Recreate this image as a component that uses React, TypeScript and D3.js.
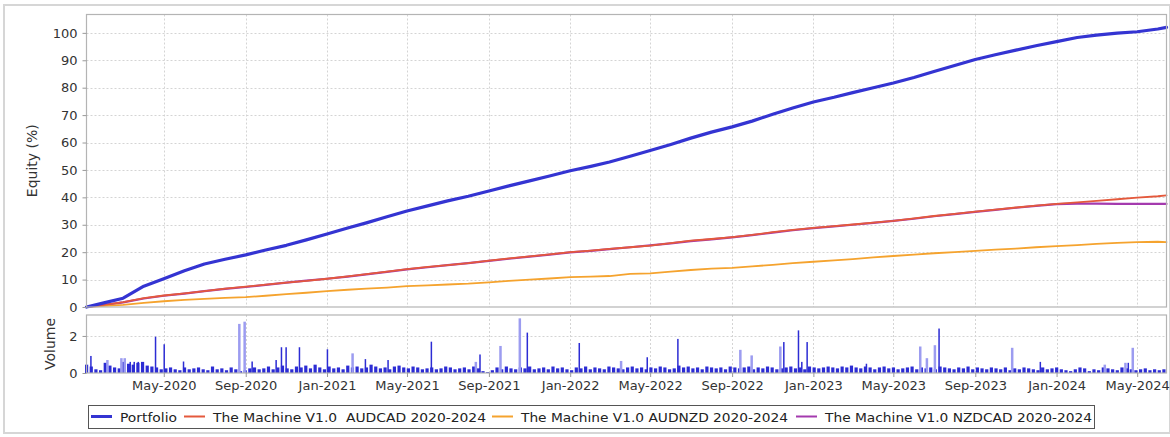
import React, { useEffect, useRef } from "react";
import * as d3 from "d3";

// sample dates for the equity curves (first of each month)
const curveDates = [
  "2020-01-06", "2020-02-01", "2020-03-01", "2020-04-01", "2020-05-01", "2020-06-01", "2020-07-01", "2020-08-01", "2020-09-01", "2020-10-01", "2020-11-01", "2020-12-01",
  "2021-01-01", "2021-02-01", "2021-03-01", "2021-04-01", "2021-05-01", "2021-06-01", "2021-07-01", "2021-08-01", "2021-09-01", "2021-10-01", "2021-11-01", "2021-12-01",
  "2022-01-01", "2022-02-01", "2022-03-01", "2022-04-01", "2022-05-01", "2022-06-01", "2022-07-01", "2022-08-01", "2022-09-01", "2022-10-01", "2022-11-01", "2022-12-01",
  "2023-01-01", "2023-02-01", "2023-03-01", "2023-04-01", "2023-05-01", "2023-06-01", "2023-07-01", "2023-08-01", "2023-09-01", "2023-10-01", "2023-11-01", "2023-12-01",
  "2024-01-01", "2024-02-01", "2024-03-01", "2024-04-01", "2024-05-01", "2024-06-01", "2024-06-14",
];

const portfolio = [
  0, 1.5, 3.2, 7.6, 10.3, 13.2, 15.7, 17.4, 19.0, 20.8, 22.5, 24.5,
  26.6, 28.8, 30.7, 32.9, 35.0, 36.9, 38.7, 40.4, 42.3, 44.2, 46.0, 47.8,
  49.7, 51.3, 52.9, 55.0, 57.1, 59.3, 61.6, 63.8, 65.7, 67.8, 70.3, 72.6,
  74.8, 76.5, 78.2, 80.0, 81.7, 83.7, 85.9, 88.1, 90.3, 92.0, 93.7, 95.3,
  96.8, 98.3, 99.2, 99.9, 100.4, 101.4, 102.0,
];

const audcad = [
  0, 0.8, 1.8, 3.2, 4.2, 5.0, 5.8, 6.7, 7.4, 8.2, 8.9, 9.5,
  10.3, 11.2, 12.0, 12.9, 13.8, 14.6, 15.3, 16.0, 16.9, 17.7, 18.5, 19.2,
  20.0, 20.6, 21.2, 21.8, 22.4, 23.3, 24.2, 24.8, 25.5, 26.3, 27.3, 28.1,
  28.9, 29.5, 30.1, 30.8, 31.4, 32.3, 33.2, 34.0, 34.8, 35.5, 36.3, 37.0,
  37.6, 38.2, 38.7, 39.3, 39.9, 40.4, 40.7,
];

const audnzd = [
  0, 0.4, 0.8, 1.5, 2.1, 2.6, 3.0, 3.3, 3.6, 4.1, 4.7, 5.2,
  5.8, 6.3, 6.7, 7.1, 7.6, 7.9, 8.2, 8.5, 9.0, 9.5, 10.0, 10.4,
  10.9, 11.1, 11.3, 12.1, 12.3, 12.9, 13.5, 14.0, 14.3, 14.8, 15.4, 16.0,
  16.5, 17.0, 17.5, 18.1, 18.6, 19.1, 19.6, 20.0, 20.5, 20.9, 21.3, 21.8,
  22.2, 22.6, 23.0, 23.4, 23.7, 23.8, 23.7,
];

const nzdcad = [
  0, 0.7, 1.7, 3.1, 4.1, 4.9, 5.8, 6.6, 7.3, 8.1, 8.9, 9.6,
  10.3, 11.1, 11.9, 12.8, 13.7, 14.5, 15.3, 16.0, 16.8, 17.6, 18.4, 19.1,
  19.9, 20.5, 21.1, 21.8, 22.5, 23.2, 24.0, 24.7, 25.4, 26.2, 27.1, 28.0,
  28.8, 29.4, 30.0, 30.7, 31.4, 32.2, 33.1, 33.9, 34.7, 35.4, 36.2, 36.9,
  37.5, 37.7, 37.7, 37.6, 37.6, 37.6, 37.6,
];

// weekly volume, first week starting 2020-01-06
const volumeStart = "2020-01-06";
const weeklyVolume = [
  0.45, 0.35, 0.2, 0.15, 0.55, 0.4, 0.3, 0.25, 0.6, 0.5, 0.45, 0.55, 0.6, 0.4, 0.35, 0.3, 0.2, 0.25, 0.3, 0.2,
  0.15, 0.3, 0.2, 0.25, 0.3, 0.2, 0.15, 0.35, 0.2, 0.25, 0.15, 0.3, 0.2, 0.1, 0.15, 0.25, 0.3, 0.2, 0.25, 0.35,
  0.2, 0.3, 0.4, 0.25, 0.2, 0.35, 0.3, 0.4, 0.25, 0.45, 0.3, 0.2, 0.35, 0.25, 0.3, 0.2, 0.4, 0.3, 0.35, 0.25,
  0.3, 0.45, 0.35, 0.25, 0.3, 0.2, 0.35, 0.4, 0.3, 0.25, 0.35, 0.3, 0.2, 0.25, 0.3, 0.2, 0.25, 0.35, 0.3, 0.2,
  0.25, 0.3, 0.2, 0.35, 0.25, 0.1, 0.05, 0.15, 0.3, 0.2, 0.35, 0.25, 0.2, 0.3, 0.25, 0.35, 0.2, 0.25, 0.3, 0.2,
  0.35, 0.25, 0.3, 0.2, 0.15, 0.3, 0.25, 0.35, 0.2, 0.3, 0.25, 0.2, 0.35, 0.3, 0.25, 0.2, 0.3, 0.35, 0.25, 0.3,
  0.2, 0.3, 0.25, 0.35, 0.3, 0.2, 0.25, 0.4, 0.3, 0.35, 0.25, 0.3, 0.2, 0.35, 0.3, 0.25, 0.3, 0.2, 0.35, 0.3,
  0.25, 0.3, 0.35, 0.2, 0.3, 0.25, 0.35, 0.3, 0.2, 0.25, 0.3, 0.35, 0.25, 0.3, 0.2, 0.35, 0.3, 0.25, 0.3, 0.35,
  0.3, 0.25, 0.35, 0.3, 0.4, 0.3, 0.25, 0.35, 0.3, 0.2, 0.3, 0.35, 0.25, 0.3, 0.2, 0.25, 0.3, 0.35, 0.2, 0.3,
  0.25, 0.3, 0.2, 0.35, 0.3, 0.25, 0.2, 0.3, 0.25, 0.35, 0.2, 0.3, 0.25, 0.2, 0.3, 0.25, 0.2, 0.3, 0.15, 0.25,
  0.2, 0.3, 0.25, 0.2, 0.15, 0.3, 0.2, 0.25, 0.3, 0.2, 0.15, 0.1, 0.2, 0.3, 0.25, 0.1, 0.2, 0.15, 0.3, 0.25,
  0.2, 0.15, 0.3, 0.25, 0.2, 0.15, 0.2, 0.25, 0.15, 0.2, 0.15, 0.2,
];

// the taller volume bars: date, volume, light (overlapping) bar
const spikeDates = [
  "2020-01-13", "2020-02-06", "2020-02-27", "2020-03-03", "2020-03-12", "2020-03-18", "2020-03-24", "2020-04-19", "2020-05-02", "2020-05-31",
  "2020-08-22", "2020-08-30", "2020-09-11", "2020-10-17", "2020-10-25", "2020-11-01", "2020-11-21", "2021-01-02", "2021-02-08", "2021-02-28",
  "2021-04-03", "2021-06-07", "2021-08-12", "2021-08-19", "2021-09-18", "2021-10-17", "2021-10-29", "2022-01-15", "2022-03-18", "2022-04-27",
  "2022-06-12", "2022-09-13", "2022-09-30", "2022-11-12", "2022-11-18", "2022-12-10", "2022-12-15", "2022-12-23", "2023-03-22", "2023-06-10",
  "2023-06-20", "2023-07-02", "2023-07-09", "2023-10-26", "2023-12-08", "2024-03-13", "2024-04-13", "2024-04-18", "2024-04-24",
];
const spikeValues = [
  0.92, 0.7, 0.8, 0.8, 0.6, 0.6, 0.6, 1.96, 1.55, 0.62,
  2.65, 2.77, 0.62, 0.7, 1.39, 1.39, 1.39, 1.28, 1.06, 0.75,
  0.7, 1.69, 0.6, 1.0, 1.46, 2.95, 2.18, 1.62, 0.65, 0.85,
  1.84, 1.25, 0.95, 1.43, 1.67, 2.3, 0.6, 1.67, 0.5, 1.43,
  0.8, 1.5, 2.4, 1.36, 0.6, 0.45, 0.55, 0.55, 1.36,
];
const spikeLight = [
  0, 1, 1, 1, 0, 0, 0, 0, 0, 0,
  1, 1, 0, 0, 0, 0, 0, 0, 1, 0,
  0, 0, 1, 0, 1, 1, 0, 0, 1, 0,
  0, 1, 1, 1, 0, 0, 0, 0, 0, 1,
  1, 1, 0, 1, 0, 1, 1, 0, 1,
];

const xTicks = [
  "2020-05-01", "2020-09-01", "2021-01-01", "2021-05-01", "2021-09-01", "2022-01-01", "2022-05-01",
  "2022-09-01", "2023-01-01", "2023-05-01", "2023-09-01", "2024-01-01", "2024-05-01",
];
const equityTicks = [0, 10, 20, 30, 40, 50, 60, 70, 80, 90, 100];
const volumeTicks = [0, 2];

const seriesNames = [
  "Portfolio",
  "The Machine V1.0  AUDCAD 2020-2024",
  "The Machine V1.0 AUDNZD 2020-2024",
  "The Machine V1.0 NZDCAD 2020-2024",
];
const seriesColors = ["#3434d2", "#e4593c", "#f5a32e", "#a43aae"];

const W = 1170;
const H = 437;
const left = 86.5;
const right = 1166.5;
const eqTop = 14.5;
const eqBottom = 307;
const volTop = 315;
const volBottom = 373;
const FONT = "'DejaVu Sans', Verdana, sans-serif";

export default function App() {
  const svgRef = useRef<SVGSVGElement>(null);

  useEffect(() => {
    const svg = d3.select(svgRef.current);
    svg.selectAll("*").remove();
    const parse = d3.utcParse("%Y-%m-%d");
    const dates = curveDates.map((d) => parse(d) as Date);

    const x = d3.scaleUtc()
      .domain([parse("2020-01-06") as Date, parse("2024-06-14") as Date])
      .range([left, right]);
    const yEq = d3.scaleLinear().domain([0, 106.7]).range([eqBottom, eqTop]);
    const yVol = d3.scaleLinear().domain([0, 3.13]).range([volBottom, volTop]);

    svg.append("rect")
      .attr("x", 4).attr("y", 5).attr("width", 1166).attr("height", 428)
      .attr("fill", "white").attr("stroke", "#d6d6d6").attr("stroke-width", 2);

    // plot backgrounds
    [[eqTop, eqBottom], [volTop, volBottom]].forEach(([t, b]) => {
      svg.append("rect")
        .attr("x", left).attr("y", t).attr("width", right - left).attr("height", b - t)
        .attr("fill", "white");
    });

    const tickDates = xTicks.map((d) => parse(d) as Date);
    const grid = svg.append("g")
      .attr("stroke", "#d4d4d4").attr("stroke-dasharray", "2,2").attr("stroke-width", 1);
    tickDates.forEach((d) => {
      const px = Math.round(x(d)) + 0.5;
      grid.append("line").attr("x1", px).attr("x2", px).attr("y1", eqTop).attr("y2", eqBottom);
      grid.append("line").attr("x1", px).attr("x2", px).attr("y1", volTop).attr("y2", volBottom);
    });
    equityTicks.filter((v) => v > 0).forEach((v) => {
      const py = Math.round(yEq(v)) + 0.5;
      grid.append("line").attr("x1", left).attr("x2", right).attr("y1", py).attr("y2", py);
    });
    volumeTicks.filter((v) => v > 0).forEach((v) => {
      const py = Math.round(yVol(v)) + 0.5;
      grid.append("line").attr("x1", left).attr("x2", right).attr("y1", py).attr("y2", py);
    });

    // volume bars
    const vStart = parse(volumeStart) as Date;
    const vol = svg.append("g");
    vol.selectAll(".wk")
      .data(weeklyVolume)
      .join("rect")
      .attr("x", (v, i) => x(d3.utcDay.offset(vStart, i * 7)) - 1.5)
      .attr("width", 3.2)
      .attr("y", (v) => yVol(v))
      .attr("height", (v) => volBottom - yVol(v))
      .attr("fill", "#2c2cd4");
    vol.selectAll(".spk")
      .data(spikeDates)
      .join("rect")
      .attr("x", (d) => x(parse(d) as Date) - 1)
      .attr("width", (d, i) => (spikeLight[i] ? 2.5 : 1.5))
      .attr("y", (d, i) => yVol(spikeValues[i]))
      .attr("height", (d, i) => volBottom - yVol(spikeValues[i]))
      .attr("fill", (d, i) => (spikeLight[i] ? "#9c9cf0" : "#2c2cd4"));

    // equity lines
    const line = d3.line<number>()
      .x((v, i) => x(dates[i]))
      .y((v) => yEq(v))
      .curve(d3.curveLinear);
    const drawOrder = [3, 2, 1, 0];
    const values = [portfolio, audcad, audnzd, nzdcad];
    const widths = [3.2, 1.8, 1.8, 2.2];
    drawOrder.forEach((k) => {
      svg.append("path")
        .datum(values[k])
        .attr("d", line)
        .attr("fill", "none")
        .attr("stroke", seriesColors[k])
        .attr("stroke-width", widths[k])
        .attr("stroke-linejoin", "round")
        .attr("stroke-linecap", "round");
    });

    // plot borders
    [[eqTop, eqBottom], [volTop, volBottom]].forEach(([t, b]) => {
      svg.append("rect")
        .attr("x", left).attr("y", t).attr("width", right - left).attr("height", b - t)
        .attr("fill", "none").attr("stroke", "#b4b4b4").attr("stroke-width", 1.2);
    });

    // axes
    const styleAxis = (g: any) => {
      g.select(".domain").remove();
      g.selectAll(".tick line").attr("stroke", "#999");
      g.selectAll(".tick text").attr("fill", "#333").style("font-family", FONT).style("font-size", "13px");
    };
    svg.append("g")
      .attr("transform", `translate(${left},0)`)
      .call(d3.axisLeft(yEq).tickValues(equityTicks).tickSize(4).tickPadding(5).tickFormat(d3.format("d")))
      .call(styleAxis);
    svg.append("g")
      .attr("transform", `translate(${left},0)`)
      .call(d3.axisLeft(yVol).tickValues(volumeTicks).tickSize(4).tickPadding(5).tickFormat(d3.format("d")))
      .call(styleAxis);
    svg.append("g")
      .attr("transform", `translate(0,${volBottom})`)
      .call(d3.axisBottom(x).tickValues(tickDates).tickSize(4).tickPadding(4).tickFormat((d: any) => d3.utcFormat("%b-%Y")(d)))
      .call(styleAxis);

    // axis titles
    svg.append("text")
      .attr("transform", `translate(37,${(eqTop + eqBottom) / 2}) rotate(-90)`)
      .attr("text-anchor", "middle")
      .style("font-family", FONT).style("font-size", "14px").attr("fill", "#333")
      .text("Equity (%)");
    svg.append("text")
      .attr("transform", `translate(55,${(volTop + volBottom) / 2}) rotate(-90)`)
      .attr("text-anchor", "middle")
      .style("font-family", FONT).style("font-size", "14px").attr("fill", "#333")
      .text("Volume");

    // legend
    const lg = svg.append("g");
    lg.append("rect")
      .attr("x", 88.5).attr("y", 405.5).attr("width", 1006).attr("height", 23)
      .attr("fill", "white").attr("stroke", "#555");
    const itemX = [91, 184, 492, 796];
    const textLen = [57, 273, 267, 267];
    seriesNames.forEach((name, i) => {
      lg.append("line")
        .attr("x1", itemX[i]).attr("x2", itemX[i] + 21).attr("y1", 416.5).attr("y2", 416.5)
        .attr("stroke", seriesColors[i]).attr("stroke-width", i === 0 ? 3 : 2);
      lg.append("text")
        .attr("x", itemX[i] + 29).attr("y", 421.5)
        .attr("textLength", textLen[i]).attr("lengthAdjust", "spacingAndGlyphs")
        .style("font-family", FONT).style("font-size", "13px").attr("fill", "#222")
        .style("white-space", "pre")
        .text(name);
    });
  }, []);

  return (
    <svg ref={svgRef} width={W} height={H} style={{ position: "absolute", left: 0, top: 0, background: "white" }} />
  );
}
